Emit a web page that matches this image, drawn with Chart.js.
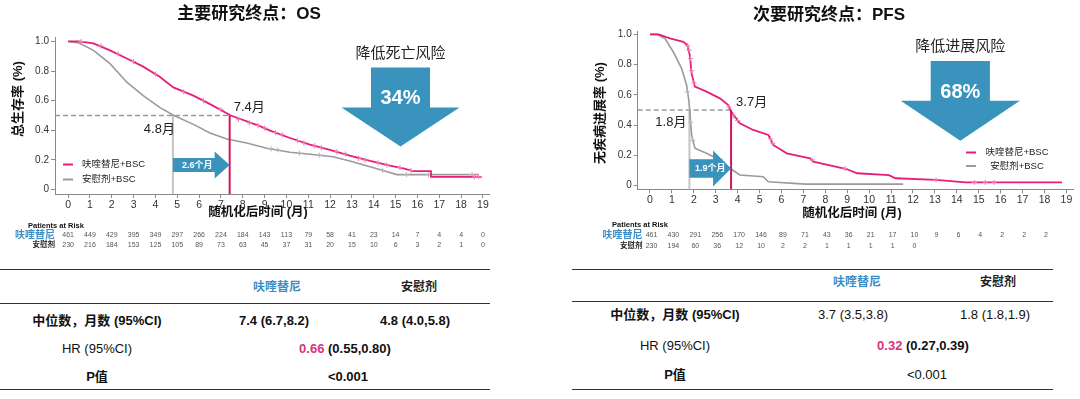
<!DOCTYPE html>
<html>
<head>
<meta charset="utf-8">
<script src="https://cdn.jsdelivr.net/npm/chart.js@4.4.1/dist/chart.umd.min.js"></script>
<style>
  body { margin: 0; background: #fff; width: 1080px; height: 399px; overflow: hidden; position: relative;
         font-family: "Liberation Sans", "Noto Sans CJK SC", sans-serif; }
  .panel { position: absolute; top: 0; width: 540px; height: 258px; }
  .cell { position: absolute; transform: translate(-50%, -50%); white-space: pre; font-size: 13px;
          line-height: 1; color: #111; }
  .rule { position: absolute; height: 0; border-top: 1.5px solid #333; }
</style>
</head>
<body>
<div class="panel" style="left:0"><canvas id="os" width="540" height="258" style="width:540px;height:258px"></canvas></div>
<div class="panel" style="left:540px"><canvas id="pfs" width="540" height="258" style="width:540px;height:258px"></canvas></div>
<div id="tables"></div>
<script>
// tick values
const months = [0, 1, 2, 3, 4, 5, 6, 7, 8, 9, 10, 11, 12, 13, 14, 15, 16, 17, 18, 19];
const yTickValues = [0, 0.2, 0.4, 0.6, 0.8, 1.0];
const yTickLabels = ["0", "0.2", "0.4", "0.6", "0.8", "1.0"];

// OS curves
const osFruqX = [0, 0.5, 1.16, 1.92, 2.69, 3.44, 4.21, 4.82, 5.74, 6.5, 7.45, 8.79, 9.25, 10.16, 11.08, 11.99, 12.9, 13.83, 14.74, 15.35, 15.8, 16.62, 16.62, 18.94];
const osFruqY = [1.0, 1.0, 0.987, 0.94, 0.885, 0.83, 0.76, 0.69, 0.634, 0.577, 0.5, 0.428, 0.398, 0.348, 0.303, 0.268, 0.229, 0.193, 0.161, 0.143, 0.125, 0.125, 0.086, 0.086];
const osPlaX = [0, 0.5, 1.16, 1.92, 2.69, 3.44, 4.21, 4.85, 5.74, 6.5, 7.27, 8.18, 9.1, 10.16, 11.08, 12.13, 12.9, 13.83, 14.5, 15.05, 18.8];
const osPlaY = [1.0, 0.99, 0.94, 0.85, 0.725, 0.634, 0.553, 0.5, 0.44, 0.382, 0.341, 0.314, 0.279, 0.252, 0.238, 0.222, 0.193, 0.154, 0.125, 0.101, 0.101];
const osFruqCensX = [0.6, 1.5, 2.3, 3.0, 4.0, 5.3, 6.2, 7.0, 7.8, 8.3, 8.7, 9.0, 9.5, 9.8, 10.5, 10.8, 11.3, 11.6, 12.3, 12.7, 13.3, 13.6, 14.2, 14.6, 15.2, 15.7, 18.6, 18.8];
const osFruqCensY = [1.0, 0.97, 0.915, 0.865, 0.78, 0.66, 0.6, 0.54, 0.475, 0.45, 0.432, 0.415, 0.385, 0.37, 0.33, 0.315, 0.295, 0.282, 0.255, 0.24, 0.21, 0.2, 0.18, 0.165, 0.148, 0.128, 0.086, 0.086];
const osPlaCensX = [9.3, 9.6, 10.6, 11.5, 14.4, 15.5, 16.5, 18.5];
const osPlaCensY = [0.275, 0.268, 0.245, 0.232, 0.13, 0.101, 0.101, 0.101];

// PFS curves
const pfsFruqX = [0, 0.4, 0.91, 1.52, 1.7, 1.82, 1.9, 2.05, 2.58, 3.19, 3.57, 3.7, 4.1, 4.71, 5.4, 5.62, 6.24, 7.3, 7.45, 8.97, 9.45, 10.9, 11.2, 13.05, 14.4, 18.8];
const pfsFruqY = [1.0, 1.0, 0.973, 0.95, 0.93, 0.86, 0.74, 0.654, 0.621, 0.577, 0.533, 0.49, 0.412, 0.368, 0.335, 0.269, 0.214, 0.181, 0.159, 0.11, 0.082, 0.07, 0.049, 0.038, 0.022, 0.022];
const pfsPlaX = [0, 0.3, 0.68, 1.06, 1.44, 1.67, 1.76, 1.82, 1.9, 2.05, 2.58, 3.19, 3.65, 4.1, 5.17, 5.4, 7.1, 11.55];
const pfsPlaY = [1.0, 1.0, 0.973, 0.885, 0.775, 0.665, 0.577, 0.489, 0.335, 0.247, 0.214, 0.17, 0.115, 0.071, 0.059, 0.026, 0.01, 0.01];
const pfsFruqCensX = [1.72, 1.78, 1.85, 1.9, 2.0, 3.6, 3.8, 4.0, 5.5, 5.6, 7.4, 8.9, 13.05, 14.8, 15.3, 15.7];
const pfsFruqCensY = [0.925, 0.895, 0.84, 0.76, 0.68, 0.52, 0.46, 0.43, 0.31, 0.28, 0.17, 0.113, 0.038, 0.022, 0.022, 0.022];
const pfsPlaCensX = [1.7, 1.85, 1.95, 3.3];
const pfsPlaCensY = [0.62, 0.42, 0.3, 0.16];

// numbers at risk
const osRiskFruq = [461, 449, 429, 395, 349, 297, 266, 224, 184, 143, 113, 79, 58, 41, 23, 14, 7, 4, 4, 0];
const osRiskPla = [230, 216, 184, 153, 125, 105, 89, 73, 63, 45, 37, 31, 20, 15, 10, 6, 3, 2, 1, 0];
const pfsRiskFruq = [461, 430, 291, 256, 170, 146, 89, 71, 43, 36, 21, 17, 10, 9, 6, 4, 2, 2, 2];
const pfsRiskPla = [230, 194, 60, 36, 12, 10, 2, 2, 1, 1, 1, 1, 0];

// medians (months) and risk reduction
const osMedians = [7.4, 4.8];
const pfsMedians = [3.7, 1.8];
const seriesNames = ["呋喹替尼+BSC", "安慰剂+BSC"];

const PINK = "#E61E7B", PINK_C = "#F07CB2", GRAY = "#9B9B9B", GRAY_C = "#B5B5B5";
const BLUE = "#3993BD", BLUE_TXT = "#3C8DC3", VLINE_PINK = "#D0155F";
const SANS = '"Liberation Sans", "Noto Sans CJK SC", sans-serif';

function pts(xs, ys) { return xs.map((x, i) => ({ x: x, y: ys[i] })); }

function drawBigArrow(ctx, a) {
  ctx.fillStyle = BLUE;
  ctx.beginPath();
  ctx.moveTo(a.cx - a.body, a.top);
  ctx.lineTo(a.cx + a.body, a.top);
  ctx.lineTo(a.cx + a.body, a.shoulder);
  ctx.lineTo(a.cx + a.head, a.shoulder);
  ctx.lineTo(a.cx, a.tip);
  ctx.lineTo(a.cx - a.head, a.shoulder);
  ctx.lineTo(a.cx - a.body, a.shoulder);
  ctx.closePath();
  ctx.fill();
}

function drawSideArrow(ctx, x0, x1, yc, body, head, headLen) {
  ctx.fillStyle = BLUE;
  ctx.beginPath();
  ctx.moveTo(x0, yc - body);
  ctx.lineTo(x1 - headLen, yc - body);
  ctx.lineTo(x1 - headLen, yc - head);
  ctx.lineTo(x1, yc);
  ctx.lineTo(x1 - headLen, yc + head);
  ctx.lineTo(x1 - headLen, yc + body);
  ctx.lineTo(x0, yc + body);
  ctx.closePath();
  ctx.fill();
}

function decor(cfg) {
  return {
    id: "decor_" + cfg.id,
    beforeDatasetsDraw(chart) {
      const { ctx, chartArea, scales: { x, y } } = chart;
      const yMed = y.getPixelForValue(0.5);
      const xF = x.getPixelForValue(cfg.medians[0]);
      const xP = x.getPixelForValue(cfg.medians[1]);
      ctx.save();
      ctx.lineWidth = 1.5;
      ctx.strokeStyle = "#9a9a9a";
      ctx.setLineDash([5, 3]);
      ctx.beginPath(); ctx.moveTo(chartArea.left, yMed); ctx.lineTo(xF, yMed); ctx.stroke();
      ctx.setLineDash([]);
      ctx.strokeStyle = "#c4c4c4"; ctx.lineWidth = 2;
      ctx.beginPath(); ctx.moveTo(xP, yMed); ctx.lineTo(xP, chartArea.bottom); ctx.stroke();
      ctx.restore();
    },
    afterDatasetsDraw(chart) {
      const { ctx, chartArea, scales: { x, y } } = chart;
      const yMed = y.getPixelForValue(0.5);
      const xF = x.getPixelForValue(cfg.medians[0]);
      const xP = x.getPixelForValue(cfg.medians[1]);
      ctx.save();
      ctx.strokeStyle = VLINE_PINK; ctx.lineWidth = 2;
      ctx.beginPath(); ctx.moveTo(xF, yMed); ctx.lineTo(xF, chartArea.bottom); ctx.stroke();

      // median labels
      ctx.fillStyle = "#222"; ctx.textBaseline = "middle";
      ctx.font = "13px " + SANS;
      ctx.textAlign = "left";
      ctx.fillText(cfg.medians[0] + "月", xF + cfg.fLab[0], yMed + cfg.fLab[1]);
      ctx.textAlign = "right";
      ctx.fillText(cfg.medians[1] + "月", xP + cfg.pLab[0], yMed + cfg.pLab[1]);

      // gain arrow between medians
      const s = cfg.side;
      drawSideArrow(ctx, xP, xF, s.y, s.body, s.head, s.len);
      ctx.fillStyle = "#fff"; ctx.textAlign = "center";
      ctx.font = "bold 9px " + SANS;
      ctx.fillText(cfg.gain, (xP + xF) / 2 + s.tx, s.y + 0.5);

      // big arrow
      const a = cfg.big;
      drawBigArrow(ctx, a);
      ctx.fillStyle = "#222"; ctx.font = "15px " + SANS;
      ctx.fillText(cfg.bigText, a.cx, a.top - 14);
      ctx.fillStyle = "#fff"; ctx.font = "bold 20px " + SANS;
      ctx.fillText(cfg.bigPct, a.cx, a.top + 31);

      // legend
      const lg = cfg.legend;
      const cols = [PINK, GRAY];
      ctx.font = "9.5px " + SANS; ctx.fillStyle = "#222";
      seriesNames.forEach((name, i) => {
        const ly = lg.y[i];
        ctx.strokeStyle = cols[i]; ctx.lineWidth = 2;
        ctx.beginPath(); ctx.moveTo(lg.x0, ly); ctx.lineTo(lg.x0 + 10, ly); ctx.stroke();
        ctx.textAlign = lg.align;
        ctx.fillText(name, lg.tx, ly);
      });
      ctx.restore();
    },
    afterDraw(chart) {
      const { ctx, scales: { x } } = chart;
      ctx.save();
      ctx.textBaseline = "middle"; ctx.textAlign = "center"; ctx.fillStyle = "#111";
      ctx.font = "bold 17px " + SANS;
      ctx.fillText(cfg.title, cfg.titlePos[0], cfg.titlePos[1]);
      ctx.font = "bold 12.5px " + SANS;
      ctx.fillText("随机化后时间 (月)", cfg.xTitlePos[0], cfg.xTitlePos[1]);
      ctx.save();
      ctx.translate(cfg.yTitlePos[0], cfg.yTitlePos[1]);
      ctx.rotate(-Math.PI / 2);
      ctx.font = "bold 13px " + SANS;
      ctx.fillText(cfg.yTitle, 0, 0);
      ctx.restore();

      // numbers at risk
      const r = cfg.risk;
      ctx.textAlign = "left"; ctx.font = "bold 7.5px " + SANS; ctx.fillStyle = "#111";
      ctx.fillText("Patients at Risk", r.titleX, r.titleY);
      ctx.textAlign = "right";
      ctx.font = "bold 10px " + SANS; ctx.fillStyle = BLUE_TXT;
      ctx.fillText("呋喹替尼", r.labelX, r.y[0]);
      ctx.font = "bold 7.5px " + SANS; ctx.fillStyle = "#222";
      ctx.fillText("安慰剂", r.labelX, r.y[1]);
      ctx.textAlign = "center"; ctx.font = "7px " + SANS; ctx.fillStyle = "#555";
      cfg.riskFruq.forEach((n, i) => ctx.fillText(String(n), x.getPixelForValue(months[i]) + r.dx, r.y[0]));
      cfg.riskPla.forEach((n, i) => ctx.fillText(String(n), x.getPixelForValue(months[i]) + r.dx, r.y[1]));
      ctx.restore();
    }
  };
}

function kmChart(cfg) {
  const axisCol = "#8a8a8a";
  return new Chart(document.getElementById(cfg.id), {
    type: "line",
    data: {
      datasets: [
        { data: pts(cfg.fruqCensX, cfg.fruqCensY), showLine: false, pointStyle: "cross", pointRadius: 2.6,
          borderColor: PINK_C, borderWidth: 1 },
        { data: pts(cfg.fruqX, cfg.fruqY), borderColor: PINK, borderWidth: 1.8, pointRadius: 0, tension: 0 },
        { data: pts(cfg.plaCensX, cfg.plaCensY), showLine: false, pointStyle: "cross", pointRadius: 2.6,
          borderColor: GRAY_C, borderWidth: 1 },
        { data: pts(cfg.plaX, cfg.plaY), borderColor: GRAY, borderWidth: 1.6, pointRadius: 0, tension: 0 }
      ]
    },
    options: {
      responsive: false,
      animation: false,
      events: [],
      layout: { padding: cfg.padding },
      plugins: { legend: { display: false }, tooltip: { enabled: false } },
      scales: {
        x: {
          type: "linear", min: cfg.xRange[0], max: cfg.xRange[1],
          afterBuildTicks: (s) => { s.ticks = months.map((v) => ({ value: v })); },
          afterFit: (s) => { s.height = 20; },
          ticks: { color: "#333", padding: 1, maxRotation: 0, autoSkip: false,
                   font: { family: "Liberation Sans", size: 10.5 }, callback: (v) => String(v) },
          grid: { drawOnChartArea: false, tickLength: 4, color: axisCol },
          border: { color: axisCol }
        },
        y: {
          min: cfg.yRange[0], max: cfg.yRange[1],
          afterBuildTicks: (s) => { s.ticks = yTickValues.map((v) => ({ value: v })); },
          afterFit: (s) => { s.width = cfg.yWidth; },
          ticks: { color: "#333", padding: 2, font: { family: "Liberation Sans", size: 10 },
                   callback: (v) => yTickLabels[yTickValues.indexOf(v)] },
          grid: { drawOnChartArea: false, tickLength: 4, color: axisCol },
          border: { color: axisCol }
        }
      }
    },
    plugins: [decor(cfg)]
  });
}

kmChart({
  id: "os", title: "主要研究终点：OS", yTitle: "总生存率 (%)",
  titlePos: [249, 14], xTitlePos: [258, 213], yTitlePos: [18, 99],
  fruqX: osFruqX, fruqY: osFruqY, plaX: osPlaX, plaY: osPlaY,
  fruqCensX: osFruqCensX, fruqCensY: osFruqCensY, plaCensX: osPlaCensX, plaCensY: osPlaCensY,
  riskFruq: osRiskFruq, riskPla: osRiskPla,
  medians: osMedians, gain: "2.6个月",
  fLab: [4, -8], pLab: [2, 14],
  side: { y: 165, body: 7, head: 13.5, len: 15, tx: -4 },
  big: { cx: 400.5, top: 67.5, body: 29.5, shoulder: 107.5, head: 59, tip: 146.5 },
  bigText: "降低死亡风险", bigPct: "34%",
  legend: { x0: 63, tx: 82, y: [164.5, 179.5], align: "left" },
  risk: { titleX: 28, titleY: 226, labelX: 55, y: [235, 245], dx: 0 },
  padding: { left: 0, right: 50.5, top: 37, bottom: 44 },
  yWidth: 55, xRange: [-0.6, 19.3], yRange: [-0.03, 1.03]
});

kmChart({
  id: "pfs", title: "次要研究终点：PFS", yTitle: "无疾病进展率 (%)",
  titlePos: [289, 15], xTitlePos: [312, 213.5], yTitlePos: [60, 113],
  fruqX: pfsFruqX, fruqY: pfsFruqY, plaX: pfsPlaX, plaY: pfsPlaY,
  fruqCensX: pfsFruqCensX, fruqCensY: pfsFruqCensY, plaCensX: pfsPlaCensX, plaCensY: pfsPlaCensY,
  riskFruq: pfsRiskFruq, riskPla: pfsRiskPla,
  medians: pfsMedians, gain: "1.9个月",
  fLab: [5, -8], pLab: [-3, 12],
  side: { y: 168.5, body: 9.2, head: 18, len: 18, tx: 0 },
  big: { cx: 420.3, top: 61, body: 29.6, shoulder: 100.7, head: 59.6, tip: 140.7 },
  bigText: "降低进展风险", bigPct: "68%",
  legend: { x0: 426, tx: 477, y: [152.5, 166], align: "center" },
  risk: { titleX: 72, titleY: 225, labelX: 102.5, y: [235.5, 246], dx: 1.5 },
  padding: { left: 0, right: 7, top: 31, bottom: 48.7 },
  yWidth: 97.7, xRange: [-0.56, 19.3], yRange: [-0.024, 1.022]
});

// summary tables below the charts
const tableHead = ["呋喹替尼", "安慰剂"];
const rowLabels = ["中位数，月数 (95%CI)", "HR (95%CI)", "P值"];
const osMedianText = ["7.4 (6.7,8.2)", "4.8 (4.0,5.8)"];
const pfsMedianText = ["3.7 (3.5,3.8)", "1.8 (1.8,1.9)"];
const osHr = ["0.66", "(0.55,0.80)"];
const pfsHr = ["0.32", "(0.27,0.39)"];
const pValue = "<0.001";

function buildTable(t) {
  const root = document.getElementById("tables");
  const add = (html, x, y, style) => {
    const d = document.createElement("div");
    d.className = "cell";
    d.style.left = x + "px"; d.style.top = y + "px";
    if (style) d.style.cssText += style;
    d.innerHTML = html;
    root.appendChild(d);
  };
  t.rules.forEach((ry) => {
    const r = document.createElement("div");
    r.className = "rule";
    r.style.left = t.x0 + "px"; r.style.top = ry + "px"; r.style.width = (t.x1 - t.x0) + "px";
    root.appendChild(r);
  });
  add(tableHead[0], t.head[0], t.rows[0], "font-weight:bold;font-size:12px;color:" + BLUE_TXT);
  add(tableHead[1], t.head[1], t.rows[0], "font-weight:bold;font-size:12px;color:#222");
  add(rowLabels[0], t.labelX, t.rows[1], "font-weight:bold");
  add(rowLabels[1], t.labelX, t.rows[2], "font-weight:" + t.hrLabelW);
  add(rowLabels[2], t.labelX, t.rows[3], "font-weight:bold");
  add(t.med[0], t.medX[0], t.rows[1], "font-weight:" + t.medW);
  add(t.med[1], t.medX[1], t.rows[1], "font-weight:" + t.medW);
  add('<span style="color:#D6337F">' + t.hr[0] + "</span> " + t.hr[1], t.hrX, t.rows[2], "font-weight:bold");
  add(pValue, t.pX, t.rows[3], "font-weight:" + t.pW);
}

buildTable({
  x0: 0, x1: 490, rules: [268.5, 302.5, 388.5],
  head: [277, 419], rows: [287, 319.5, 347.5, 376], labelX: 97,
  med: osMedianText, medX: [274, 415], medW: "bold", hr: osHr, hrX: 345, hrLabelW: "normal",
  pX: 348, pW: "bold"
});
buildTable({
  x0: 572, x1: 1053, rules: [268.5, 301, 388.5],
  head: [857, 998], rows: [282, 313.5, 344.5, 373.5], labelX: 675,
  med: pfsMedianText, medX: [853, 995], medW: "normal", hr: pfsHr, hrX: 923, hrLabelW: "normal",
  pX: 927, pW: "normal"
});
</script>
</body>
</html>
